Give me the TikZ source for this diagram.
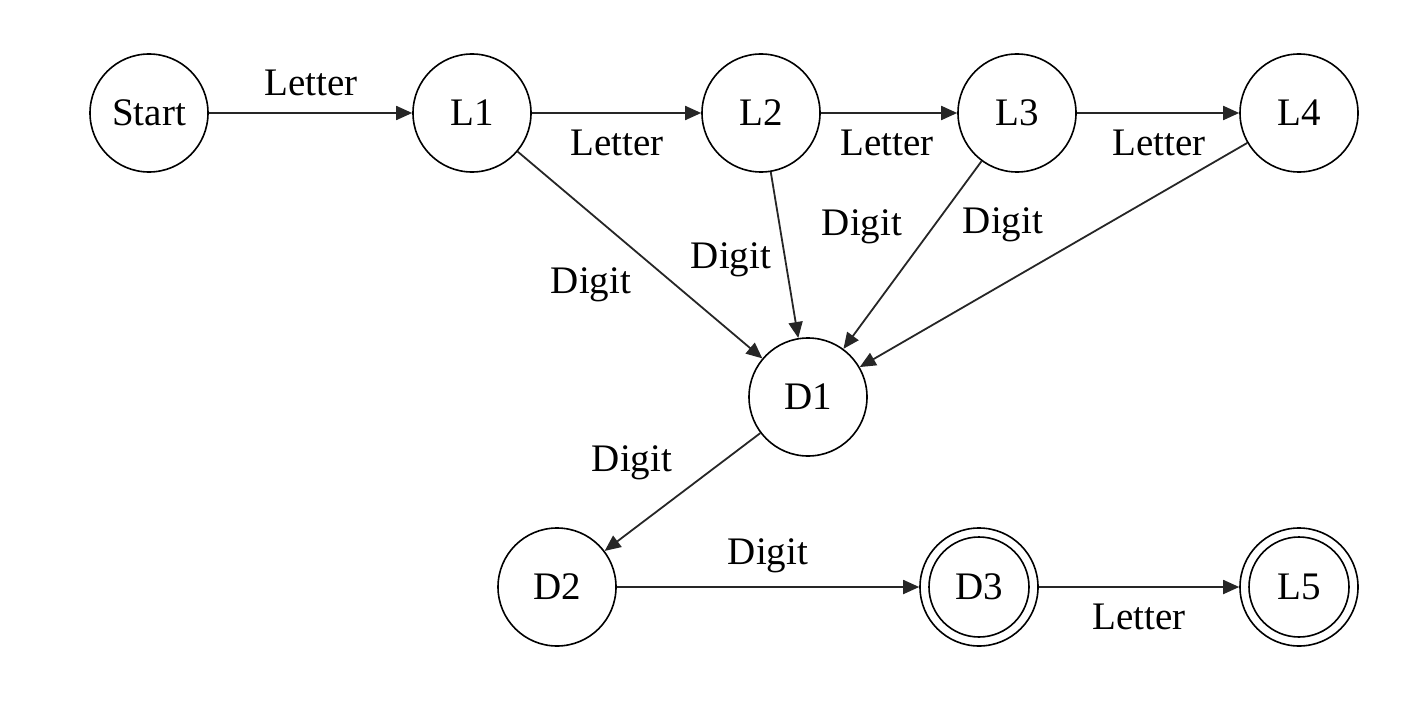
\documentclass[tikz,border=0pt]{standalone}
\usepackage{fontspec}
\setmainfont{Liberation Serif}
\usetikzlibrary{arrows.meta}

\begin{document}
\begin{tikzpicture}[x=0.5pt,y=0.5pt,
    state/.style={circle, draw, line width=0.8pt, minimum size=59pt, inner sep=0pt,
                  font=\fontsize{19.5}{23}\selectfont},
    finalstate/.style={state, path picture={\draw[line width=0.8pt]
                  (path picture bounding box.center) circle[radius=25pt];}},
    trans/.style={-{Triangle[length=8pt,width=7pt]}, line width=0.9pt, draw=black!85},
    lab/.style={font=\fontsize{19.5}{23}\selectfont}]

    \useasboundingbox (0,0) rectangle (1408,714);

    % states of the top row
    \node[state] (start) at (149,601) {Start};
    \node[state] (L1) at (472,601) {L1};
    \node[state] (L2) at (761,601) {L2};
    \node[state] (L3) at (1017,601) {L3};
    \node[state] (L4) at (1299,601) {L4};

    % digit states
    \node[state] (D1) at (808,317) {D1};
    \node[state] (D2) at (557,127) {D2};

    % accepting states
    \node[finalstate] (D3) at (979,127) {D3};
    \node[finalstate] (L5) at (1299,127) {L5};

    % letter transitions
    \draw[trans] (start) -- (L1);
    \draw[trans] (L1) -- (L2);
    \draw[trans] (L2) -- (L3);
    \draw[trans] (L3) -- (L4);
    \draw[trans] (D3) -- (L5);

    % digit transitions
    \draw[trans] (L1) -- (D1);
    \draw[trans] (L2) -- (D1);
    \draw[trans] (L3) -- (D1);
    \draw[trans] (L4) -- (D1);
    \draw[trans] (D1) -- (D2);
    \draw[trans] (D2) -- (D3);

    % labels
    \node[lab] (lstart) at (311,631) {Letter};
    \node[lab] (lL1) at (617,571) {Letter};
    \node[lab] (lL2) at (887,571) {Letter};
    \node[lab] (lL3) at (1159,571) {Letter};
    \node[lab] (dL1) at (591,429) {Digit};
    \node[lab] (dL2) at (731,454) {Digit};
    \node[lab] (dL3) at (862,487) {Digit};
    \node[lab] (dL4) at (1003,489) {Digit};
    \node[lab] (dD1) at (632,251) {Digit};
    \node[lab] (dD2) at (768,158) {Digit};
    \node[lab] (lD3) at (1139,97) {Letter};

\end{tikzpicture}
\end{document}
